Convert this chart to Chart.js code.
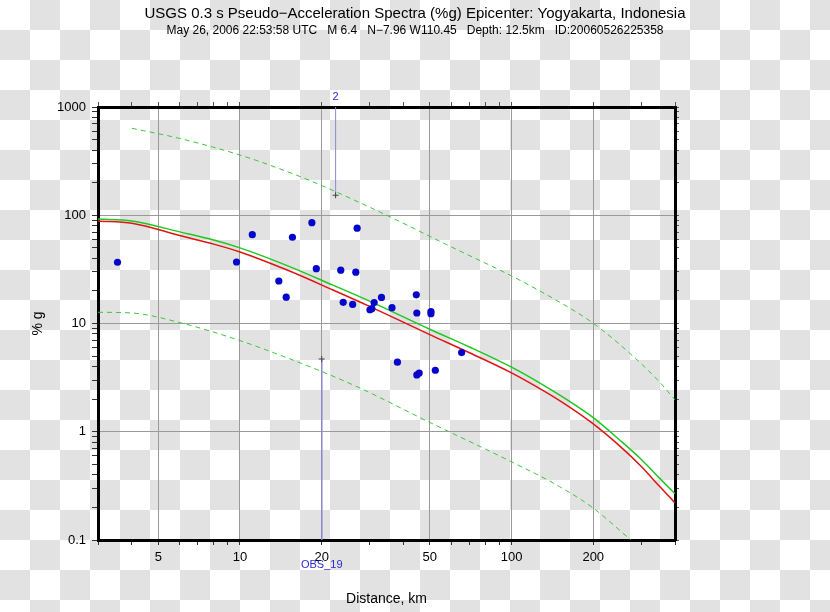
<!DOCTYPE html>
<html>
<head>
<meta charset="utf-8">
<script src="https://cdn.jsdelivr.net/npm/chart.js@4.4.0/dist/chart.umd.min.js"></script>
<style>
	body { margin: 0; background: #fff; }
</style>
</head>
<body>
<canvas id="grafico" width="830" height="612"></canvas>
<script>
		// textos
		var titulo = "USGS 0.3 s Pseudo\u2212Acceleration Spectra (%g) Epicenter: Yogyakarta, Indonesia";
		var subtitulo = "May 26, 2006 22:53:58 UTC   M 6.4   N\u22127.96 W110.45   Depth: 12.5km   ID:20060526225358";

		// curvas (distância em km, valor em %g)
		var distCurva = [3, 4, 6, 8, 10, 15, 22, 30, 50, 70, 100, 130, 160, 200, 250, 300, 350, 400];
		var curvaVermelha = [88.6, 84.3, 65.0, 54.1, 45.8, 31.0, 20.4, 14.4, 7.9, 5.37, 3.5, 2.42, 1.75, 1.18, 0.74, 0.48, 0.315, 0.22];
		var curvaVerde = [92.4, 88.6, 70.2, 59.1, 50.0, 34.1, 22.6, 16.1, 8.85, 6.07, 3.95, 2.73, 1.98, 1.35, 0.84, 0.557, 0.375, 0.267];

		var distSuperior = [4, 6, 10, 15, 20, 35, 60, 100, 150, 200, 280, 350, 400];
		var curvaSuperior = [636, 512, 360, 252, 188, 99, 51, 27.5, 15.8, 10.05, 5.0, 2.9, 1.97];

		var distInferior = [3, 4, 6, 10, 15, 20, 27.7, 50, 100, 150, 200, 275];
		var curvaInferior = [12.7, 12.5, 10.2, 6.95, 4.79, 3.6, 2.53, 1.22, 0.527, 0.312, 0.197, 0.1];

		// estações (pontos azuis)
		var distEstacoes = [3.54, 9.71, 11.1, 15.6, 13.9, 14.8, 18.4, 19.1, 23.5, 26.7, 27.0, 24.0, 26.0, 31.2,
			33.2, 30.1, 30.6, 36.3, 44.6, 44.8, 50.5, 50.5, 65.5, 38.0, 52.4, 44.8, 45.7];
		var valorEstacoes = [36.8, 37.0, 66.2, 62.6, 24.7, 17.5, 85.4, 32.1, 31.1, 29.8, 75.9, 15.7, 15.0, 15.6,
			17.4, 13.4, 13.7, 14.0, 18.4, 12.5, 12.9, 12.3, 5.39, 4.39, 3.7, 3.35, 3.48];

		// estações marcadas com linha
		var estacoes = ["2", "OBS_19"];
		var distMarcadas = [22.5, 20];
		var valorMarcadas = [153, 4.7];

		// eixos
		var xMin = 3, xMax = 400, yMin = 0.1, yMax = 1000;
		var xMarcas = [3, 4, 5, 6, 7, 8, 9, 10, 20, 30, 40, 50, 60, 70, 80, 90, 100, 200, 300, 400];
		var xRotulos = [5, 10, 20, 50, 100, 200];
		var yMarcas = [0.1, 0.2, 0.3, 0.4, 0.5, 0.6, 0.7, 0.8, 0.9, 1, 2, 3, 4, 5, 6, 7, 8, 9,
			10, 20, 30, 40, 50, 60, 70, 80, 90, 100, 200, 300, 400, 500, 600, 700, 800, 900, 1000];
		var yRotulos = [0.1, 1, 10, 100, 1000];

		var fonte = '"Liberation Sans", Arial, sans-serif';

		function pares(xs, ys) {
			var r = [];
			for (i = 0; i < xs.length; i++) {
				r.push({ x: xs[i], y: ys[i] });
			}
			return r;
		}

		// linha vai até a borda mais próxima
		function pontaLinha(v) {
			return (Math.log10(yMax / v) < Math.log10(v / yMin)) ? yMax : yMin;
		}

		// fundo xadrez
		var fundo = {
			id: "fundo",
			beforeDraw: function(chart) {
				var ctx = chart.ctx;
				ctx.save();
				ctx.fillStyle = "#ffffff";
				ctx.fillRect(0, 0, chart.width, chart.height);
				ctx.fillStyle = "#e2e2e2";
				for (var i = 0; i * 30 < chart.width; i++) {
					for (var j = 0; j * 30 < chart.height; j++) {
						if ((i + j) % 2 == 1) ctx.fillRect(i * 30, j * 30, 30, 30);
					}
				}
				ctx.restore();
			}
		};

		// títulos e nomes das estações
		var textos = {
			id: "textos",
			afterDraw: function(chart) {
				var ctx = chart.ctx;
				var area = chart.chartArea;
				var sx = chart.scales.x;
				ctx.save();
				ctx.textAlign = "center";
				ctx.textBaseline = "middle";
				ctx.fillStyle = "#000";
				ctx.font = "15px " + fonte;
				ctx.fillText(titulo, chart.width / 2, 14);
				ctx.font = "12px " + fonte;
				ctx.fillText(subtitulo, chart.width / 2, 31);

				ctx.fillStyle = "#2a2ad2";
				ctx.font = "11px " + fonte;
				for (i = 0; i < estacoes.length; i++) {
					var px = sx.getPixelForValue(distMarcadas[i]);
					if (pontaLinha(valorMarcadas[i]) == yMax) {
						ctx.fillText(estacoes[i], px, area.top - 10);
					} else {
						ctx.fillText(estacoes[i], px, area.bottom + 25);
					}
				}
				ctx.restore();
			}
		};

		function corGrade(lista) {
			return function(c) {
				if (c.tick && lista.indexOf(c.tick.value) >= 0) return "#9a9a9a";
				return "rgba(0,0,0,0)";
			};
		}

		var datasets = [];

		// pontos
		datasets.push({
			data: pares(distEstacoes, valorEstacoes),
			pointRadius: 3.6,
			pointBackgroundColor: "#0505cc",
			pointBorderColor: "#0505cc",
			pointBorderWidth: 0,
			order: 0
		});

		datasets.push({
			data: pares(distCurva, curvaVerde),
			showLine: true,
			cubicInterpolationMode: "monotone",
			borderColor: "#1ec81e",
			borderWidth: 1.5,
			pointRadius: 0,
			order: 1
		});

		datasets.push({
			data: pares(distCurva, curvaVermelha),
			showLine: true,
			cubicInterpolationMode: "monotone",
			borderColor: "#e01414",
			borderWidth: 1.5,
			pointRadius: 0,
			order: 2
		});

		datasets.push({
			data: pares(distSuperior, curvaSuperior),
			showLine: true,
			cubicInterpolationMode: "monotone",
			borderColor: "#3cc83c",
			borderWidth: 1,
			borderDash: [5, 4],
			pointRadius: 0,
			order: 3
		});

		datasets.push({
			data: pares(distInferior, curvaInferior),
			showLine: true,
			cubicInterpolationMode: "monotone",
			borderColor: "#3cc83c",
			borderWidth: 1,
			borderDash: [5, 4],
			pointRadius: 0,
			order: 3
		});

		// linhas das estações marcadas
		for (i = 0; i < estacoes.length; i++) {
			datasets.push({
				data: [
					{ x: distMarcadas[i], y: valorMarcadas[i] },
					{ x: distMarcadas[i], y: pontaLinha(valorMarcadas[i]) }
				],
				showLine: true,
				borderColor: "#8a8acc",
				borderWidth: 1,
				pointStyle: "cross",
				pointRadius: [3, 0],
				pointBorderColor: "#444",
				pointBorderWidth: 1,
				order: 4
			});
		}

		var eixoLog = {
			type: "logarithmic",
			border: { display: true, color: "#000", width: 3 }
		};

		var ctx = document.getElementById("grafico");

		var chartGraph = new Chart(ctx, {
			type: "scatter",
			data: { datasets: datasets },
			plugins: [fundo, textos],
			options: {
				responsive: false,
				animation: false,
				layout: { padding: 0 },
				plugins: {
					legend: { display: false },
					tooltip: { enabled: false }
				},
				scales: {
					x: Object.assign({}, eixoLog, {
						position: "bottom",
						min: xMin, max: xMax,
						afterBuildTicks: function(s) { s.ticks = xMarcas.map(function(v) { return { value: v }; }); },
						afterFit: function(s) { s.height = 72; },
						grid: { color: corGrade(xRotulos), tickColor: "#333", tickLength: 5 },
						ticks: {
							autoSkip: false, maxRotation: 0, padding: 5, color: "#000",
							font: { family: fonte, size: 13 },
							callback: function(v) { return xRotulos.indexOf(v) >= 0 ? String(v) : ""; }
						},
						title: { display: true, text: "Distance, km", color: "#000", font: { family: fonte, size: 14 }, padding: { top: 0, bottom: 4 } }
					}),
					x2: Object.assign({}, eixoLog, {
						position: "top",
						min: xMin, max: xMax,
						afterBuildTicks: function(s) { s.ticks = xMarcas.map(function(v) { return { value: v }; }); },
						afterFit: function(s) { s.height = 107; },
						grid: { drawOnChartArea: false, tickColor: "#555", tickLength: 5 },
						ticks: { display: false }
					}),
					y: Object.assign({}, eixoLog, {
						position: "left",
						min: yMin, max: yMax,
						afterBuildTicks: function(s) { s.ticks = yMarcas.map(function(v) { return { value: v }; }); },
						afterFit: function(s) { s.width = 98; },
						grid: { color: corGrade(yRotulos), tickColor: "#333", tickLength: 6 },
						ticks: {
							autoSkip: false, padding: 6, color: "#000",
							font: { family: fonte, size: 13 },
							callback: function(v) { return yRotulos.indexOf(v) >= 0 ? String(v) : ""; }
						},
						title: { display: true, text: "% g", color: "#000", font: { family: fonte, size: 14 }, padding: { top: 30, bottom: 0 } }
					}),
					y2: Object.assign({}, eixoLog, {
						position: "right",
						min: yMin, max: yMax,
						afterBuildTicks: function(s) { s.ticks = yMarcas.map(function(v) { return { value: v }; }); },
						afterFit: function(s) { s.width = 155; },
						grid: { drawOnChartArea: false, tickColor: "#555", tickLength: 4 },
						ticks: { display: false }
					})
				}
			}
		});
</script>
</body>
</html>
